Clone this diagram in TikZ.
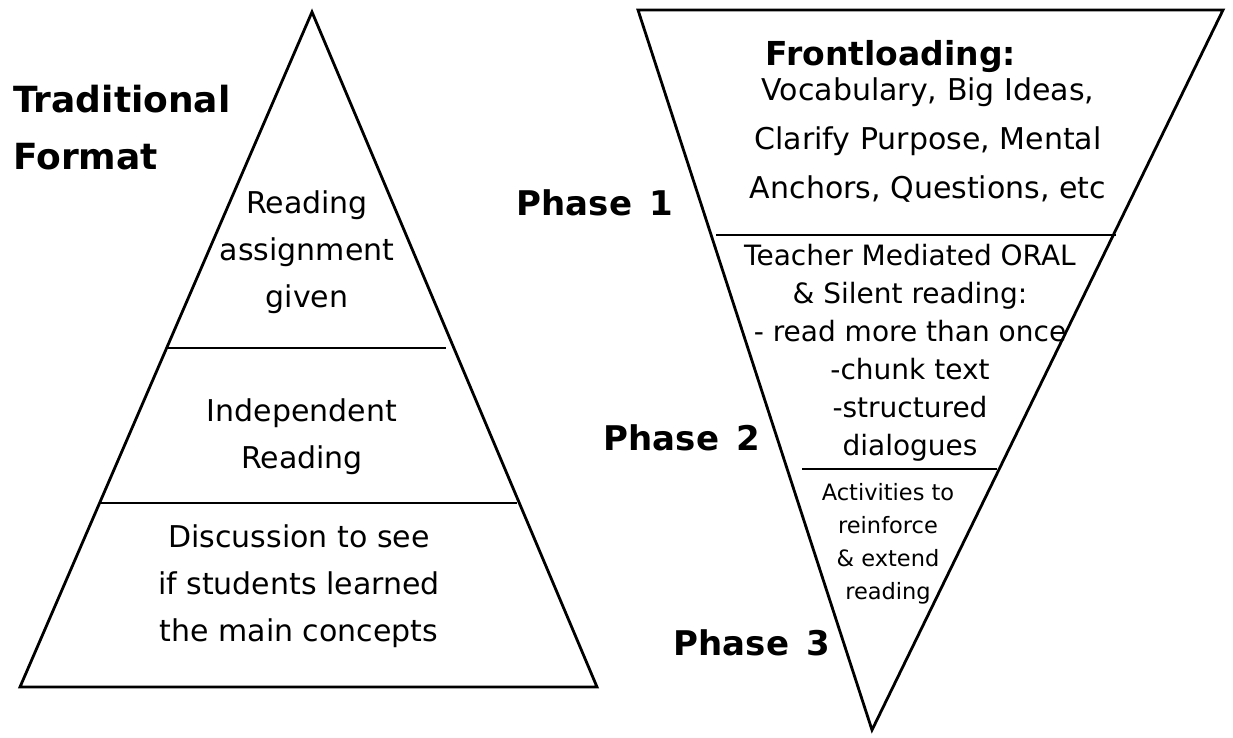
\documentclass[tikz,border=0pt]{standalone}
\usepackage{fontspec}
\setmainfont{DejaVu Sans}
\usetikzlibrary{calc}

\tikzset{
  edge/.style={line width=2.8pt, line join=miter},
  divider/.style={line width=1.8pt},
  body/.style={inner sep=0pt, align=center, font=\fontsize{30}{47}\selectfont},
  phase/.style={inner sep=0pt, anchor=base east, font=\fontsize{34}{40}\selectfont\bfseries},
}

\begin{document}
\begin{tikzpicture}[x=1pt,y=-1pt]
\useasboundingbox[fill=white](0,0) rectangle (1233,738);

% traditional pyramid
\coordinate (ltop) at (312,12);
\coordinate (lleft) at (20,687);
\coordinate (lright) at (597,687);
\draw[edge] (ltop)--(lright)--(lleft)--cycle;
\coordinate (la1) at (167,348); \coordinate (lb1) at (446,348);
\coordinate (la2) at (100,503); \coordinate (lb2) at (517,503);
\draw[divider] (la1)--(lb1);
\draw[divider] (la2)--(lb2);

\node[inner sep=0pt, anchor=west, align=left, font=\fontsize{36}{57}\selectfont\bfseries] (tradlabel) at (13,128) {Traditional\\Format};

\node[body] (assign) at (307,252) {Reading\\assignment\\given};
\node[body] (indep) at (302,437) {Independent\\Reading};
\node[body] (discuss) at (299,586) {Discussion to see\\if students learned\\the main concepts};

% inverted pyramid
\coordinate (rtl) at (638,10);
\coordinate (rtr) at (1223,10);
\coordinate (rbot) at (872,730);
\draw[edge] (rtl)--(rtr)--(rbot)--cycle;
\coordinate (ra1) at (716,235); \coordinate (rb1) at (1116,235);
\coordinate (ra2) at (802,469); \coordinate (rb2) at (997,469);
\draw[divider] (ra1)--(rb1);
\draw[divider] (ra2)--(rb2);

\node[inner sep=0pt, font=\fontsize{33}{40}\selectfont\bfseries] (front) at (891,57) {Frontloading:};
\node[body, font=\fontsize{30}{49}\selectfont] (vocab) at (928,140) {Vocabulary, Big Ideas,\\Clarify Purpose, Mental\\Anchors, Questions, etc};
\node[body, font=\fontsize{28}{38}\selectfont] (teacher) at (910,353) {Teacher Mediated ORAL\\\& Silent reading:\\- read more than once\\-chunk text\\-structured\\dialogues};
\node[body, font=\fontsize{22.5}{33}\selectfont] (activ) at (888,544) {Activities to\\reinforce\\\& extend\\reading};

\node[phase] (ph1) at (673,215) {Phase\enspace 1};
\node[phase] (ph2) at (760,450) {Phase\enspace 2};
\node[phase] (ph3) at (830,655) {Phase\enspace 3};
\end{tikzpicture}
\end{document}
